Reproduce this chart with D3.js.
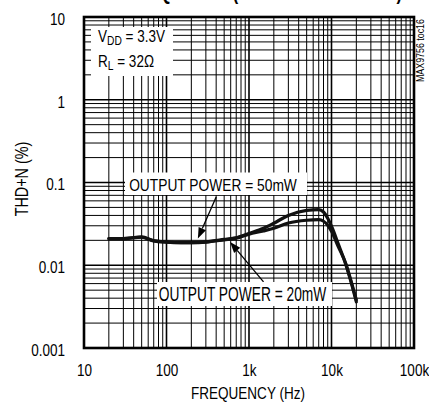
<!DOCTYPE html>
<html>
<head>
<meta charset="utf-8">
<script src="https://cdn.jsdelivr.net/npm/d3@7"></script>
<style>
  html, body { margin: 0; padding: 0; background: #fff; }
  svg { display: block; font-family: "Liberation Sans", Arial, sans-serif; }
</style>
</head>
<body>
<svg id="chart" width="429" height="404"></svg>
<script>
// Frequency sweep points (Hz)
const frequency = [20, 30, 50, 70, 100, 150, 200, 300, 500, 700, 1000, 1500, 2000, 3000, 5000, 7000, 8000, 9000, 10000, 12000, 15000, 17000, 20000];
// THD+N (%) at 50mW output power
const thd50mW = [0.021, 0.021, 0.022, 0.0198, 0.0191, 0.0188, 0.0188, 0.0192, 0.0205, 0.0215, 0.0242, 0.028, 0.0322, 0.040, 0.046, 0.047, 0.044, 0.037, 0.0296, 0.0184, 0.0100, 0.0066, 0.0036];
// THD+N (%) at 20mW output power
const thd20mW = [0.021, 0.021, 0.0218, 0.0197, 0.019, 0.0187, 0.0187, 0.019, 0.0203, 0.0213, 0.0238, 0.026, 0.028, 0.0324, 0.035, 0.0355, 0.034, 0.0305, 0.0257, 0.017, 0.0103, 0.0068, 0.0038];

// Axis ticks
const xTickValues = [10, 100, 1000, 10000, 100000];
const xTickLabels = ["10", "100", "1k", "10k", "100k"];
const yTickValues = [0.001, 0.01, 0.1, 1, 10];
const yTickLabels = ["0.001", "0.01", "0.1", "1", "10"];

const W = 429, H = 404;
const margin = { top: 17, right: 15, bottom: 56, left: 84 };
const NARROW = 0.82; // horizontal squeeze for a condensed look

const svg = d3.select("#chart");

const x = d3.scaleLog().domain([10, 100000]).range([margin.left, W - margin.right]);
const y = d3.scaleLog().domain([0.001, 10]).range([H - margin.bottom, margin.top]);

// Squeeze text horizontally around its own anchor point
function narrow(sel, k = NARROW) {
  sel.each(function () {
    const t = d3.select(this);
    const xv = +t.attr("x") || 0;
    const prev = t.attr("transform") || "";
    t.attr("transform", `${prev} translate(${xv},0) scale(${k},1) translate(${-xv},0)`);
  });
}

// Chart title, mostly above the top edge
svg.append("text")
  .attr("x", 402).attr("y", -0.5)
  .attr("text-anchor", "end")
  .attr("font-size", 20).attr("font-weight", "bold")
  .text("THD+N vs. FREQUENCY (HEADPHONE MODE)")
  .call(narrow);

// Log grid: 1..9 per decade
const xGrid = [];
for (let e = 1; e <= 4; e++) for (let k = 1; k <= 9; k++) xGrid.push({ v: k * Math.pow(10, e), major: k === 1 });
const yGrid = [];
for (let e = -3; e <= 0; e++) for (let k = 1; k <= 9; k++) yGrid.push({ v: k * Math.pow(10, e), major: k === 1 });

const grid = svg.append("g");
grid.selectAll("line.vx").data(xGrid).join("line")
  .attr("x1", d => x(d.v)).attr("x2", d => x(d.v))
  .attr("y1", y(10)).attr("y2", y(0.001))
  .attr("stroke", "#000").attr("stroke-width", d => d.major ? 1.6 : 1);
grid.selectAll("line.hy").data(yGrid).join("line")
  .attr("y1", d => y(d.v)).attr("y2", d => y(d.v))
  .attr("x1", x(10)).attr("x2", x(100000))
  .attr("stroke", "#000").attr("stroke-width", d => d.major ? 1.6 : 1);

// Curves
const line = d3.line()
  .x(d => x(d[0])).y(d => y(d[1]))
  .curve(d3.curveMonotoneX);
const series = [thd50mW, thd20mW];
svg.append("g").selectAll("path").data(series).join("path")
  .attr("d", s => line(frequency.map((f, i) => [f, s[i]])))
  .attr("fill", "none").attr("stroke", "#111").attr("stroke-width", 3.2)
  .attr("stroke-linejoin", "round").attr("stroke-linecap", "round");

// Conditions box
const cond = svg.append("g");
cond.append("rect").attr("x", 91).attr("y", 27).attr("width", 82).attr("height", 49).attr("fill", "#fff");
const t1 = cond.append("text").attr("x", 98).attr("y", 42).attr("font-size", 16.5);
t1.append("tspan").text("V");
t1.append("tspan").attr("font-size", 12.5).attr("dy", 3).text("DD");
t1.append("tspan").attr("dy", -3).text(" = 3.3V");
const t2 = cond.append("text").attr("x", 98).attr("y", 67).attr("font-size", 16.5);
t2.append("tspan").text("R");
t2.append("tspan").attr("font-size", 12.5).attr("dy", 3).text("L");
t2.append("tspan").attr("dy", -3).text(" = 32Ω");
narrow(cond.selectAll("text"));

// Output power annotations (arrow tail/tip in data units)
const notes = [
  { text: "OUTPUT POWER = 50mW", box: [125, 172.5, 182, 22.5], tx: 213, ty: 191, size: 16.8, squeeze: 0.82,
    tail: [400, 0.0669], tip: [240, 0.0210] },
  { text: "OUTPUT POWER = 20mW", box: [157, 282, 175, 24], tx: 242.5, ty: 300.7, size: 19.5, squeeze: 0.706,
    tail: [1500, 0.0063], tip: [590, 0.0191] }
];
const ann = svg.append("g");
notes.forEach(n => {
  const [x0, y0] = [x(n.tail[0]), y(n.tail[1])];
  const [x1, y1] = [x(n.tip[0]), y(n.tip[1])];
  const ang = Math.atan2(y1 - y0, x1 - x0);
  const L = 11, Wd = 4;
  const bx = x1 - L * Math.cos(ang), by = y1 - L * Math.sin(ang);
  ann.append("line").attr("x1", x0).attr("y1", y0).attr("x2", bx).attr("y2", by)
    .attr("stroke", "#000").attr("stroke-width", 1.3);
  ann.append("path")
    .attr("d", `M${x1},${y1}L${bx + Wd * Math.sin(ang)},${by - Wd * Math.cos(ang)}L${bx - Wd * Math.sin(ang)},${by + Wd * Math.cos(ang)}Z`)
    .attr("fill", "#000");
  ann.append("rect").attr("x", n.box[0]).attr("y", n.box[1]).attr("width", n.box[2]).attr("height", n.box[3]).attr("fill", "#fff");
  ann.append("text").attr("x", n.tx).attr("y", n.ty).attr("text-anchor", "middle")
    .attr("font-size", n.size).text(n.text).call(narrow, n.squeeze);
});

// Plot frame
svg.append("rect")
  .attr("x", x(10)).attr("y", y(10))
  .attr("width", x(100000) - x(10)).attr("height", y(0.001) - y(10))
  .attr("fill", "none").attr("stroke", "#000").attr("stroke-width", 2.6);

// Axes
const xAxis = d3.axisBottom(x).tickValues(xTickValues)
  .tickFormat((d, i) => xTickLabels[i]).tickSize(0).tickPadding(16);
svg.append("g").attr("transform", `translate(0,${y(0.001)})`).call(xAxis)
  .call(g => g.select(".domain").remove())
  .selectAll("text").attr("font-size", 16.5).attr("font-family", null).attr("fill", "#000")
  .call(narrow);

const yAxis = d3.axisLeft(y).tickValues(yTickValues)
  .tickFormat((d, i) => yTickLabels[i]).tickSize(0).tickPadding(19);
svg.append("g").attr("transform", `translate(${x(10)},0)`).call(yAxis)
  .call(g => g.select(".domain").remove())
  .selectAll("text").attr("font-size", 16.5).attr("font-family", null).attr("dy", "0.45em").attr("fill", "#000")
  .call(narrow);

// Axis titles
svg.append("text").attr("x", 248).attr("y", 399).attr("text-anchor", "middle")
  .attr("font-size", 16.5).text("FREQUENCY (Hz)").call(narrow);
svg.append("text").attr("transform", "translate(28,179) rotate(-90)").attr("text-anchor", "middle")
  .attr("font-size", 17.5).text("THD+N (%)").call(narrow);

// Figure code along the right edge
svg.append("text").attr("transform", "translate(424,82) rotate(-90)")
  .attr("font-size", 10.8).text("MAX9756 toc16").call(narrow);
</script>
</body>
</html>
